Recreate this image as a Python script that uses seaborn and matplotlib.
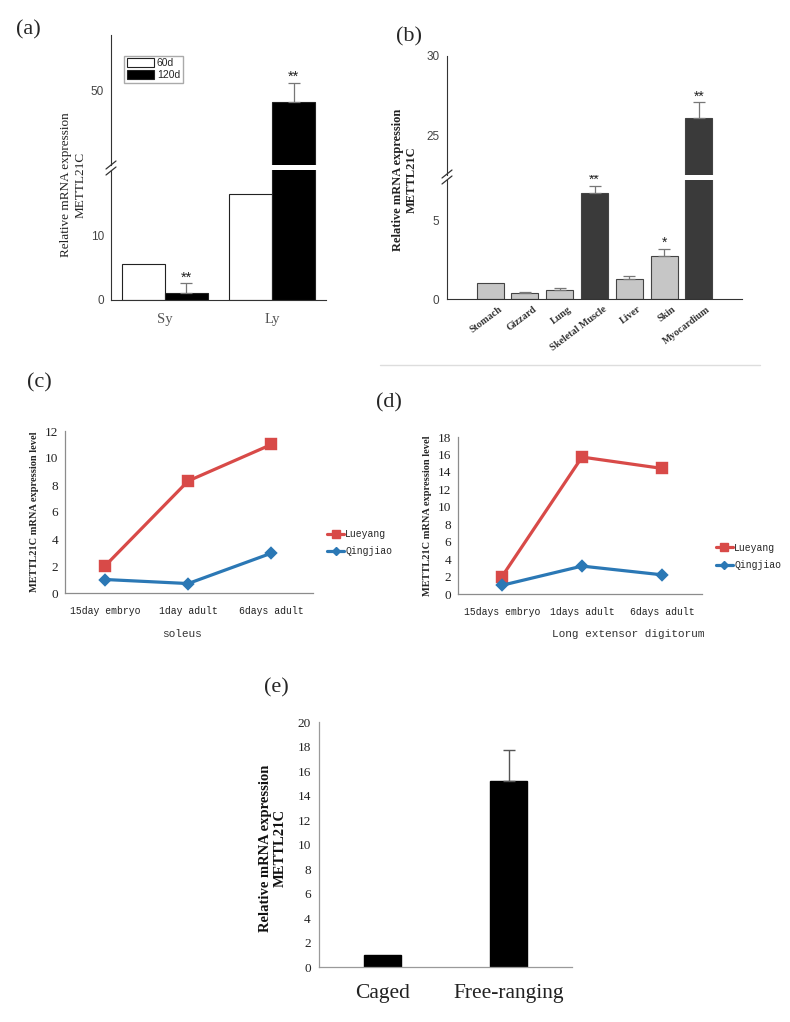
import numpy as np
import pandas as pd
import matplotlib
matplotlib.use("Agg")
import matplotlib.pyplot as plt
import matplotlib.transforms as mtransforms
from matplotlib.lines import Line2D
import seaborn as sns

# ---- (a) METTL21C in Sy / Ly at two ages
a_groups = ["Sy", "Ly"]
a_ages = ["60d", "120d"]
a_60d = [5.6, 16.3]
a_120d = [1.1, 47.0]
a_60d_err = [0.0, 0.0]
a_120d_err = [1.5, 5.2]
a_120d_stars = ["**", "**"]

# ---- (b) tissue distribution
b_tissues = ["Stomach", "Gizzard", "Lung", "Skeletal Muscle", "Liver", "Skin", "Myocardium"]
b_values = [1.0, 0.4, 0.6, 6.7, 1.25, 2.7, 26.1]
b_err = [0.0, 0.05, 0.08, 0.5, 0.2, 0.5, 1.0]
b_stars = ["", "", "", "**", "", "*", "**"]
b_dark = ["Skeletal Muscle", "Myocardium"]

# ---- (c) soleus
c_stages = ["15day embryo", "1day adult", "6days adult"]
c_lueyang = [2.0, 8.3, 11.0]
c_qingjiao = [1.0, 0.7, 2.95]

# ---- (d) long extensor digitorum
d_stages = ["15days embryo", "1days adult", "6days adult"]
d_lueyang = [2.0, 15.7, 14.4]
d_qingjiao = [1.0, 3.2, 2.2]

# ---- (e) caged vs free-ranging
e_groups = ["Caged", "Free-ranging"]
e_values = [1.0, 15.2]
e_err = [0.0, 2.5]

breeds = ["Lueyang", "Qingjiao"]
RED = "#d84a48"
BLUE = "#2b78b5"
SERIF = "Liberation Serif"
SANS = "Liberation Sans"
MONO = "Liberation Mono"

sns.set_style("white")

W, H = 790, 1022
fig = plt.figure(figsize=(W / 100, H / 100), dpi=100)


def px_axes(left, top, right, bottom):
    return fig.add_axes([left / W, 1 - bottom / H, (right - left) / W, (bottom - top) / H])


def fig_text(x, y, s, **kw):
    fig.text(x / W, 1 - y / H, s, **kw)


def break_marks(x, y):
    for dy in (-3, 3):
        fig.add_artist(Line2D([(x - 5) / W, (x + 5) / W],
                              [1 - (y + dy + 4) / H, 1 - (y + dy - 4) / H],
                              color="#333333", lw=0.9))


def style_ticks(ax, family, size, color):
    for lab in ax.get_xticklabels() + ax.get_yticklabels():
        lab.set_family(family)
        lab.set_fontsize(size)
        lab.set_color(color)


# ================= (a) =================
df_a = pd.DataFrame({
    "group": a_groups * 2,
    "age": ["60d"] * 2 + ["120d"] * 2,
    "value": a_60d + a_120d,
})
ax_alo = px_axes(111, 170, 326, 300)
ax_ahi = px_axes(111, 35, 326, 165)
for ax in (ax_alo, ax_ahi):
    sns.barplot(data=df_a, x="group", y="value", hue="age", hue_order=a_ages,
                order=a_groups, palette={"60d": "white", "120d": "black"},
                edgecolor="#222222", linewidth=0.8, errorbar=None,
                legend=(ax is ax_ahi), ax=ax)
    lo, hi = (0, 20) if ax is ax_alo else (30, 65)
    ax.set_ylim(lo, hi)
    ax.set_xlim(-0.5, 1.5)
    for cont, errs in zip(ax.containers, [a_60d_err, a_120d_err]):
        for bar, e in zip(cont, errs):
            if e > 0:
                ax.errorbar(bar.get_x() + bar.get_width() / 2, bar.get_height(),
                            yerr=[[0], [e]], fmt="none", ecolor="#777777",
                            elinewidth=0.9, capsize=4, capthick=0.9)
    for bar, e, s in zip(ax.containers[1], a_120d_err, a_120d_stars):
        top = bar.get_height() + e
        if lo <= top <= hi:
            ax.annotate(s, (bar.get_x() + bar.get_width() / 2, top), xytext=(0, -1),
                        textcoords="offset points", ha="center", va="bottom",
                        fontsize=10.5, family=SANS, color="#222222")
    ax.set_xlabel("")
    ax.set_ylabel("")
    for sp in ("top", "right"):
        ax.spines[sp].set_visible(False)
    ax.spines["left"].set_color("#333333")
    ax.spines["bottom"].set_color("#333333")
    ax.tick_params(axis="y", direction="out", length=3, width=0.8, color="#333333", pad=2)

ax_alo.set_yticks([0, 10])
ax_alo.tick_params(axis="x", direction="out", length=3, width=0.8, color="#333333", pad=6)
ax_alo.set_xticks([0, 1])
ax_alo.set_xticklabels(a_groups)
style_ticks(ax_alo, SANS, 8.5, "#444444")
for lab in ax_alo.get_xticklabels():
    lab.set_family(SERIF)
    lab.set_fontsize(10.5)
    lab.set_color("#555555")

ax_ahi.set_yticks([50])
ax_ahi.set_xticks([])
ax_ahi.spines["bottom"].set_visible(False)
style_ticks(ax_ahi, SANS, 8.5, "#444444")
h, l = ax_ahi.get_legend_handles_labels()
ax_ahi.legend(h, l, loc="upper left", bbox_to_anchor=(0.06, 0.84), frameon=True,
              fancybox=False, edgecolor="#aaaaaa", framealpha=1,
              prop={"family": SANS, "size": 7.5}, handlelength=2.6, handleheight=0.9,
              handletextpad=0.3, labelspacing=0.15, borderpad=0.25, borderaxespad=0)
break_marks(111, 168)
fig_text(73, 185, "Relative mRNA expression\nMETTL21C", rotation=90, ha="center",
         va="center", family=SERIF, fontsize=9.5, linespacing=1.25, color="#222222")
fig_text(28, 30, "(a)", ha="center", va="center", family=SERIF, fontsize=16)

# ================= (b) =================
df_b = pd.DataFrame({"tissue": b_tissues, "value": b_values})
b_palette = {t: ("#3a3a3a" if t in b_dark else "#c6c6c6") for t in b_tissues}
ax_blo = px_axes(447, 180, 742, 299)
ax_bhi = px_axes(447, 56, 742, 175)
for ax in (ax_blo, ax_bhi):
    sns.barplot(data=df_b, x="tissue", y="value", hue="tissue", order=b_tissues,
                hue_order=b_tissues, palette=b_palette, width=0.78,
                edgecolor="#444444", linewidth=0.8, errorbar=None, legend=False, ax=ax)
    lo, hi = (0, 7.55) if ax is ax_blo else (22.5, 30)
    ax.set_ylim(lo, hi)
    ax.set_xlim(-1.24, 7.24)
    for p in ax.patches:
        i = int(round(p.get_x() + p.get_width() / 2))
        if p.get_height() == 0 or i < 0 or i >= len(b_tissues):
            continue
        cx = p.get_x() + p.get_width() / 2
        if b_err[i] > 0:
            ax.errorbar(cx, b_values[i], yerr=[[0], [b_err[i]]], fmt="none",
                        ecolor="#777777", elinewidth=0.9, capsize=4, capthick=0.9)
        top = b_values[i] + b_err[i]
        if b_stars[i] and lo <= top <= hi:
            ax.annotate(b_stars[i], (cx, top), xytext=(0, -1), textcoords="offset points",
                        ha="center", va="bottom", fontsize=10, family=SANS, color="#222222")
    ax.set_xlabel("")
    ax.set_ylabel("")
    for sp in ("top", "right"):
        ax.spines[sp].set_visible(False)
    ax.spines["left"].set_color("#333333")
    ax.spines["bottom"].set_color("#333333")
    ax.tick_params(axis="y", which="both", direction="out", width=0.8, color="#333333", pad=2)
    ax.tick_params(axis="y", which="major", length=3.5)
    ax.tick_params(axis="y", which="minor", length=2)

ax_blo.set_yticks([0, 5])
ax_blo.set_yticks([2.5], minor=True)
ax_blo.set_xticks(range(len(b_tissues)))
ax_blo.set_xticklabels(b_tissues, rotation=37, ha="right", rotation_mode="anchor")
ax_blo.set_xticks([3], minor=True)
ax_blo.tick_params(axis="x", which="major", length=0, pad=4)
ax_blo.tick_params(axis="x", which="minor", direction="out", length=3, width=0.8, color="#333333")
style_ticks(ax_blo, SANS, 8.5, "#444444")
shift = mtransforms.ScaledTranslation(8 / 100, 0, fig.dpi_scale_trans)
for lab in ax_blo.get_xticklabels():
    lab.set_family(SERIF)
    lab.set_fontweight("bold")
    lab.set_fontsize(7.3)
    lab.set_color("#333333")
    lab.set_transform(lab.get_transform() + shift)

ax_bhi.set_yticks([25, 30])
ax_bhi.set_yticks([27.5], minor=True)
ax_bhi.set_xticks([])
ax_bhi.spines["bottom"].set_visible(False)
style_ticks(ax_bhi, SANS, 8.5, "#444444")
break_marks(447, 177)
fig_text(405, 180, "Relative mRNA expression\nMETTL21C", rotation=90, ha="center",
         va="center", family=SERIF, fontweight="bold", fontsize=9, linespacing=1.25,
         color="#222222")
fig_text(409, 37, "(b)", ha="center", va="center", family=SERIF, fontsize=16)
fig.add_artist(Line2D([380 / W, 760 / W], [1 - 365 / H, 1 - 365 / H], color="#dddddd", lw=1))


# ================= (c) & (d) =================
def line_panel(box, stages, lue, qing, ymax, xlim, xlabel, xlabel_x, legend_x):
    ax = px_axes(*box)
    df = pd.DataFrame({
        "stage": stages * 2,
        "breed": [breeds[0]] * 3 + [breeds[1]] * 3,
        "value": lue + qing,
    })
    sns.pointplot(data=df, x="stage", y="value", hue="breed", order=stages,
                  hue_order=breeds, palette=[RED, BLUE], markers=["s", "D"],
                  linestyles=["-", "-"], errorbar=None, markersize=6.5,
                  linewidth=2.3, legend=False, ax=ax)
    for ln in ax.lines:
        if ln.get_marker() == "D":
            ln.set_markersize(5)
    ax.set_ylim(0, ymax)
    ax.set_yticks(np.arange(0, ymax + 1, 2))
    ax.set_xlim(*xlim)
    ax.set_xticks([2.5], minor=True)
    for sp in ("top", "right"):
        ax.spines[sp].set_visible(False)
    for sp in ("left", "bottom"):
        ax.spines[sp].set_color("#8c8c8c")
        ax.spines[sp].set_linewidth(0.9)
    ax.tick_params(axis="both", which="both", direction="out", length=3, width=0.8,
                   color="#8c8c8c")
    ax.tick_params(axis="x", pad=6)
    ax.tick_params(axis="y", pad=2)
    style_ticks(ax, SERIF, 9.5, "#222222")
    for lab in ax.get_xticklabels():
        lab.set_family(MONO)
        lab.set_fontsize(7)
    ax.set_ylabel("METTL21C mRNA expression level", family=SERIF, fontweight="bold",
                  fontsize=7.5, labelpad=4)
    ax.set_xlabel(xlabel, family=MONO, fontsize=8, color="#333333")
    ax.xaxis.set_label_coords(xlabel_x, -0.22)
    handles = [Line2D([], [], color=RED, marker="s", markersize=6, lw=2.3),
               Line2D([], [], color=BLUE, marker="D", markersize=4.5, lw=2.3)]
    ax.legend(handles, breeds, loc="center left", bbox_to_anchor=legend_x,
              frameon=False, prop={"family": MONO, "size": 7}, handlelength=1.8,
              handletextpad=0.1, labelspacing=0.75, borderaxespad=0)
    return ax


line_panel((65, 431, 313, 593), c_stages, c_lueyang, c_qingjiao, 12, (-0.48, 2.5),
           "soleus", (182 - 65) / 248, (1.04, 0.31))
line_panel((458, 437, 702, 594), d_stages, d_lueyang, d_qingjiao, 18, (-0.55, 2.5),
           "Long extensor digitorum", (628 - 458) / 244, (1.04, 0.24))
fig_text(39, 383, "(c)", ha="center", va="center", family=SERIF, fontsize=16)
fig_text(389, 403, "(d)", ha="center", va="center", family=SERIF, fontsize=16)

# ================= (e) =================
df_e = pd.DataFrame({"group": e_groups, "value": e_values})
ax_e = px_axes(319, 722, 572, 967)
sns.barplot(data=df_e, x="group", y="value", order=e_groups, color="black",
            width=0.29, edgecolor="black", errorbar=None, ax=ax_e)
for p in ax_e.patches:
    i = int(round(p.get_x() + p.get_width() / 2))
    if 0 <= i < len(e_err) and e_err[i] > 0:
        ax_e.errorbar(p.get_x() + p.get_width() / 2, e_values[i], yerr=[[0], [e_err[i]]],
                      fmt="none", ecolor="#555555", elinewidth=1.0, capsize=4, capthick=1.0)
ax_e.set_ylim(0, 20)
ax_e.set_yticks(np.arange(0, 21, 2))
ax_e.set_xlim(-0.5, 1.5)
ax_e.set_xticks([0.5, 1.5], minor=True)
for sp in ("top", "right"):
    ax_e.spines[sp].set_visible(False)
for sp in ("left", "bottom"):
    ax_e.spines[sp].set_color("#9a9a9a")
    ax_e.spines[sp].set_linewidth(0.9)
ax_e.tick_params(axis="x", which="major", length=0, pad=12)
ax_e.tick_params(axis="x", which="minor", direction="in", length=4, width=0.8, color="#9a9a9a")
ax_e.tick_params(axis="y", direction="in", length=3, width=0.8, color="#9a9a9a", pad=6)
ax_e.set_xlabel("")
ax_e.set_ylabel("")
style_ticks(ax_e, SERIF, 9.5, "#222222")
for lab in ax_e.get_xticklabels():
    lab.set_fontsize(15.5)
fig_text(273, 848, "Relative mRNA expression\nMETTL21C", rotation=90, ha="center",
         va="center", family=SERIF, fontweight="bold", fontsize=10.5, linespacing=1.2,
         color="#111111")
fig_text(276, 688, "(e)", ha="center", va="center", family=SERIF, fontsize=16)

fig.savefig("out.png", dpi=100, facecolor="white")
